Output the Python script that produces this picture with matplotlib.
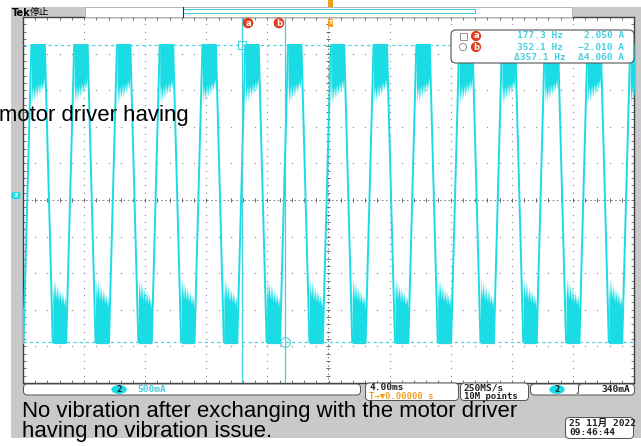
import numpy as np
import matplotlib.pyplot as plt
from matplotlib.patches import Rectangle, FancyBboxPatch, Circle, Ellipse

W, H = 641, 446

# ch2 scale: 500 mA/div, 4 ms/div, ground a little above screen centre
amps_per_div = 0.5
ms_per_div = 4.0
ground_offset = 0.068

# ch2 motor current, one period of the chopped trapezoid
period_ms = 2.80
first_high_ms = -19.45
high_ms = 0.88
fall_ms = 0.52
low_ms = 0.88
n_periods = 15
i_high = 2.05
i_low = -2.01

# chopping ripple over a plateau: position (fraction), depth below/above the plateau (A)
burst_pos = [0.0, 0.06, 0.12, 0.18, 0.24, 0.30, 0.36, 0.42, 0.48, 0.54, 0.60,
             0.66, 0.72, 0.78, 0.84, 0.90, 0.95, 1.0]
top_depth = [0.52, 0.80, 0.56, 0.78, 0.55, 0.74, 0.54, 0.72, 0.53, 0.68, 0.52,
             0.66, 0.50, 0.63, 0.48, 0.60, 0.46, 0.44]
bot_height = [0.58, 0.87, 0.60, 0.84, 0.58, 0.80, 0.56, 0.76, 0.55, 0.72, 0.54,
              0.70, 0.52, 0.66, 0.50, 0.63, 0.48, 0.46]

# cursor readouts
cursor_hz = [177.3, 352.1]
cursor_amp = [2.050, -2.010]
delta_hz = 357.1
delta_amp = 4.060

# status bar
ch_scale = "500mA"
time_scale = "4.00ms"
trig_pos = "0.00000 s"
sample_rate = "250MS/s"
rec_len = "10M points"
trig_level = "340mA"
date_str = "25 11月 2022"
time_str = "09:46:44"

caption1 = "No vibration after exchanging with the motor driver"
caption2 = "having no vibration issue."
caption_prev = "motor driver having"

cyan = "#19dce4"
cur_cyan = "#48cfe0"
grid_gray = "#9a9a9a"
bezel = "#c9c9c9"
orange = "#f0a020"
red = "#e23b1c"
mono = ["DejaVu Sans Mono", "Noto Sans CJK JP"]

fig = plt.figure(figsize=(W / 100, H / 100), dpi=100)
fig.patch.set_facecolor("white")

def px_axes(z):
    a = fig.add_axes([0, 0, 1, 1])
    a.set_xlim(0, W)
    a.set_ylim(H, 0)
    a.axis("off")
    a.set_zorder(z)
    a.patch.set_alpha(0)
    return a

ax_bg = px_axes(0)
ax_bg.add_patch(Rectangle((11, 7), W - 11, 431, color=bezel, lw=0))

# graticule
gl, gr, gt, gb = 23, 634, 17, 383
ax = fig.add_axes([gl / W, 1 - gb / H, (gr - gl) / W, (gb - gt) / H])
ax.set_zorder(1)
vc = -ground_offset
ax.set_xlim(-5 * ms_per_div, 5 * ms_per_div)
ax.set_ylim(vc - 5 * amps_per_div, vc + 5 * amps_per_div)
ax.set_facecolor("white")
for s in ax.spines.values():
    s.set_color("#404040")
    s.set_linewidth(1.0)
ax.set_xticks([])
ax.set_yticks([])
ax.set_xticks(np.arange(-20, 20.01, 0.8), minor=True)
ax.set_yticks(vc + np.arange(-2.5, 2.501, 0.1), minor=True)
ax.tick_params(which="minor", direction="in", length=2.5, width=0.6, color="#606060",
               top=True, right=True, labelbottom=False, labelleft=False)

xs_dot = np.arange(-20, 20.01, 0.8)
ys_dot = vc + np.arange(-2.5, 2.501, 0.1)
for j in range(-4, 5):
    if j == 0:
        continue
    ax.plot(xs_dot, np.full_like(xs_dot, vc + j * amps_per_div), ls="none", marker="s",
            ms=0.9, color=grid_gray, mew=0)
    ax.plot(np.full_like(ys_dot, j * ms_per_div), ys_dot, ls="none", marker="s",
            ms=0.9, color=grid_gray, mew=0)
# centre cross with tick marks
ax.axhline(vc, color="#707070", lw=0.6, ls=(0, (2, 3)))
ax.axvline(0, color="#707070", lw=0.6, ls=(0, (2, 3)))
ax.plot(xs_dot, np.full_like(xs_dot, vc), ls="none", marker="|", ms=3, mew=0.6, color="#505050")
ax.plot(np.full_like(ys_dot, 0), ys_dot, ls="none", marker="_", ms=3, mew=0.6, color="#505050")

# trace
tx, ty = [], []
bp = np.array(burst_pos)
for k in range(-1, n_periods):
    t0 = first_high_ms + k * period_ms
    t1 = t0 + high_ms
    t2 = t1 + fall_ms
    t3 = t2 + low_ms
    tx += [t0, t1, t2, t3]
    ty += [i_high, i_high, i_low, i_low]
    ax.fill_between(t0 + bp * high_ms, i_high - np.array(top_depth), i_high + 0.02,
                    color=cyan, lw=0, zorder=3)
    ax.fill_between(t2 + bp * low_ms, i_low - 0.02, i_low + np.array(bot_height),
                    color=cyan, lw=0, zorder=3)
ax.plot(tx, ty, color=cyan, lw=1.4, zorder=3)

# cursors
t_cur = [-1000.0 / f for f in cursor_hz]
for t in t_cur:
    ax.axvline(t, color=cur_cyan, lw=0.9, zorder=4)
for a in cursor_amp:
    ax.axhline(a, color=cur_cyan, lw=0.9, ls=(0, (2.5, 2.5)), zorder=4)
ax.plot(t_cur[0], cursor_amp[0], marker="s", ms=6, mfc="none", mec=cur_cyan, mew=0.8, zorder=5)
ax.plot(t_cur[1], cursor_amp[1], marker="o", ms=7, mfc="none", mec=cur_cyan, mew=0.8, zorder=5)

# overlay: header, readouts, status bar, captions
fg = px_axes(2)

fg.text(12, 12.5, "Tek", fontsize=7, fontweight="bold", va="center", family="DejaVu Sans")
fg.text(30, 12.5, "停止", fontsize=7, va="center", family=["Noto Sans CJK JP", "DejaVu Sans"])
fg.add_patch(Rectangle((85, 7), 487, 9.5, facecolor="white", edgecolor="#b0b0b0", lw=0.6))
fg.add_patch(Rectangle((183, 8.5), 292, 4.5, facecolor="none", edgecolor=cur_cyan, lw=0.8))
fg.plot([183, 183], [7, 16.5], color="#303030", lw=0.8)
fg.add_patch(Rectangle((327.5, 0), 5, 7, color=orange, lw=0))
fg.add_patch(Rectangle((327.5, 19), 5, 8, color=orange, lw=0))
fg.text(330, 23, "T", fontsize=4.5, color="white", ha="center", va="center", fontweight="bold")

for x, lab in [(248, "a"), (279, "b")]:
    fg.add_patch(Circle((x, 23), 4.6, color=red))
    fg.text(x, 23, lab, fontsize=6, color="white", ha="center", va="center", fontweight="bold")

# cursor readout box
fg.add_patch(FancyBboxPatch((452, 31), 181, 31, boxstyle="round,pad=1,rounding_size=5",
                            facecolor="white", edgecolor="#555555", lw=0.8))
fg.add_patch(Rectangle((459.5, 32.5), 7, 7, facecolor="none", edgecolor="#909090", lw=0.7))
fg.add_patch(Circle((463, 47), 3.6, facecolor="none", edgecolor="#909090", lw=0.7))
for y, lab in [(36, "a"), (47, "b")]:
    fg.add_patch(Circle((476, y), 4.4, color=red))
    fg.text(476, y, lab, fontsize=6, color="white", ha="center", va="center", fontweight="bold")
rows = [(36, f"{cursor_hz[0]:.1f} Hz", f"{cursor_amp[0]:.3f} A"),
        (47, f"{cursor_hz[1]:.1f} Hz", f"\u2212{abs(cursor_amp[1]):.3f} A"),
        (58, f"\u0394{delta_hz:.1f} Hz", f"\u0394{delta_amp:.3f} A")]
for y, hz, amp in rows:
    fg.text(540, y, hz, fontsize=6.8, color=cur_cyan, ha="center", va="center",
            family=mono, fontweight="bold")
    fg.text(624, y, amp, fontsize=6.8, color=cur_cyan, ha="right", va="center",
            family=mono, fontweight="bold")

# ground marker for ch2
fg.add_patch(FancyBboxPatch((12, 192.5), 8, 6, boxstyle="round,pad=0.5,rounding_size=2",
                            color=cyan, lw=0))
fg.text(16, 195.5, "2", fontsize=4.5, color="white", ha="center", va="center", fontweight="bold")

# status bar boxes
def sbox(x, y, w, h):
    fg.add_patch(FancyBboxPatch((x, y), w, h, boxstyle="round,pad=0.5,rounding_size=4",
                                facecolor="white", edgecolor="#505050", lw=0.7))

sbox(24, 384.5, 336, 10)
fg.add_patch(Ellipse((119, 389.5), 14, 7.5, color=cyan))
fg.text(119, 389.5, "2", fontsize=5.5, color="#103040", ha="center", va="center", fontweight="bold")
fg.text(137, 389.5, ch_scale, fontsize=6.8, color=cur_cyan, va="center", family=mono,
        fontweight="bold")

sbox(366, 383.5, 92, 16.5)
fg.text(369, 388, time_scale, fontsize=6.8, va="center", family=mono, fontweight="bold",
        color="#202020")
fg.text(369, 396.5, "T\u2192\u25bc" + trig_pos, fontsize=6.5, va="center", family=mono,
        fontweight="bold", color=orange)

sbox(461, 383.5, 67, 16.5)
fg.text(464, 388, sample_rate, fontsize=6.8, va="center", family=mono, fontweight="bold",
        color="#202020")
fg.text(464, 396.5, rec_len, fontsize=6.5, va="center", family=mono, fontweight="bold",
        color="#202020")

sbox(531, 384.5, 103, 10)
fg.add_patch(Ellipse((557, 389.5), 14, 7.5, color=cyan))
fg.text(557, 389.5, "2", fontsize=5.5, color="#103040", ha="center", va="center", fontweight="bold")
fg.text(578, 389.5, "\u222b", fontsize=7, va="center", ha="center", color="#202020")
fg.text(630, 389.5, trig_level, fontsize=6.8, ha="right", va="center", family=mono,
        fontweight="bold", color="#202020")

sbox(566, 418, 67, 20)
fg.text(569, 423.5, date_str, fontsize=6.8, va="center", family=mono, fontweight="bold",
        color="#202020")
fg.text(569, 432.5, time_str, fontsize=6.8, va="center", family=mono, fontweight="bold",
        color="#202020")

# caption text
cap = dict(fontsize=15.9, family="Liberation Sans", color="black", va="center")
fg.text(22, 411.5, caption1, **cap)
fg.text(22, 431.5, caption2, **cap)
fg.text(-1, 115, caption_prev, **cap)

fig.savefig("out.png", dpi=100)
